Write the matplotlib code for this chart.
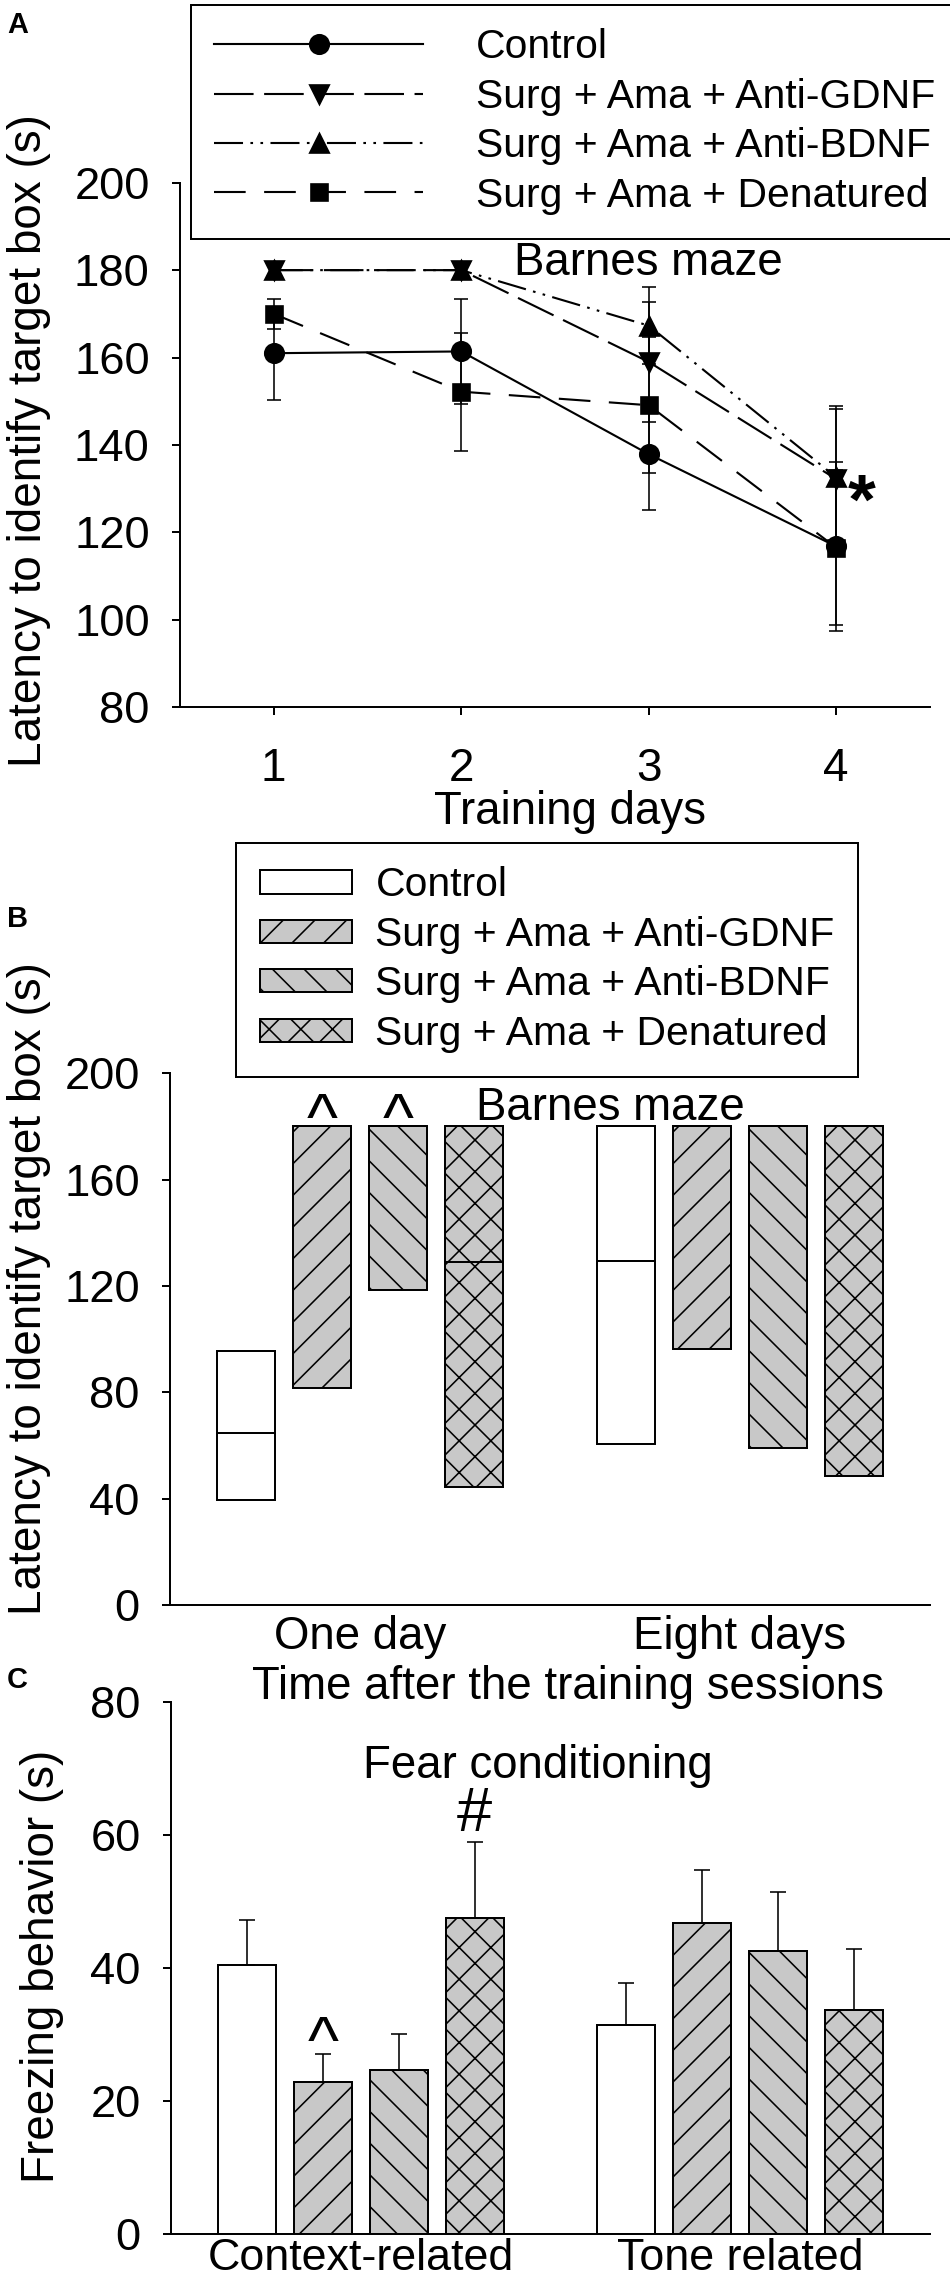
import numpy as np
import matplotlib
matplotlib.use("Agg")
import matplotlib.pyplot as plt

plt.rcParams['font.family'] = ['Liberation Sans', 'DejaVu Sans']
plt.rcParams['hatch.linewidth'] = 0.6
plt.rcParams['lines.scale_dashes'] = False
plt.rcParams['axes.linewidth'] = 0.75

W, H, DPI = 950, 2282, 190

groups = ["Control", "Surg + Ama + Anti-GDNF", "Surg + Ama + Anti-BDNF", "Surg + Ama + Denatured"]

# A - Barnes maze, latency per training day (mean +- error)
days = [1, 2, 3, 4]
ctrl_a = [161.0, 161.4, 137.9, 116.8]
ctrl_a_err = [10.6, 12.0, 12.8, 19.3]
gdnf_a = [180, 180, 159.0, 132.2]
gdnf_a_err = [0, 0, 13.8, 16.8]
bdnf_a = [180, 180, 167.3, 132.6]
bdnf_a_err = [0, 0, 8.8, 15.6]
den_a = [170.0, 152.2, 149.1, 116.5]
den_a_err = [3.4, 13.5, 15.6, 17.7]

# B - latency after training, range boxes with median line (ctrl, gdnf, bdnf, den)
times = ["One day", "Eight days"]
low_one = [39.5, 81.5, 118.6, 44.3]
high_one = [95.4, 180, 180, 180]
med_one = [64.8, 180, 180, 129.1]
low_eight = [60.4, 96.2, 59.1, 48.5]
high_eight = [180, 180, 180, 180]
med_eight = [129.5, 180, 180, 180]

# C - fear conditioning freezing (context, tone)
tests = ["Context-related", "Tone related"]
ctrl_c = [40.5, 31.4]
ctrl_c_err = [6.7, 6.4]
gdnf_c = [22.9, 46.8]
gdnf_c_err = [4.2, 7.9]
bdnf_c = [24.6, 42.6]
bdnf_c_err = [5.5, 8.8]
den_c = [47.5, 33.7]
den_c_err = [11.5, 9.2]

fills = ['white', '#c8c8c8', '#c8c8c8', '#c8c8c8']
hatches = [None, '//', '\\\\', 'xx']
offsets = [-0.3, -0.1, 0.1, 0.3]
bar_w = 0.153
lstyles = ['-', (0, (15, 4)), (0, (11, 2.8, 1, 2.8, 1, 2.8)), (0, (12, 7))]
markers = ['o', 'v', '^', 's']
msizes = [7, 7, 7, 6]


def fx(x):
    return x / W


def fy(y):
    return 1 - y / H


def style_axes(ax):
    ax.spines['top'].set_visible(False)
    ax.spines['right'].set_visible(False)
    ax.tick_params(axis='y', direction='out', length=3, width=0.75, labelsize=17.2, pad=8.5)


fig = plt.figure(figsize=(W / DPI, H / DPI), dpi=DPI)

# ---- panel A
axA = fig.add_axes([fx(180), fy(707.3), 750 / W, (707.3 - 182.7) / H])
style_axes(axA)
handles = []
for y, e, lab, ls, mk, ms in zip([ctrl_a, gdnf_a, bdnf_a, den_a],
                                 [ctrl_a_err, gdnf_a_err, bdnf_a_err, den_a_err],
                                 groups, lstyles, markers, msizes):
    y, e = np.array(y, float), np.array(e, float)
    keep = e > 0
    axA.errorbar(np.array(days)[keep], y[keep], yerr=e[keep], fmt='none', ecolor='k',
                 elinewidth=0.6, capsize=2.5, capthick=0.6, zorder=2)
    h, = axA.plot(days, y, color='k', lw=0.8, linestyle=ls, marker=mk, ms=ms,
                  mfc='k', mec='k', zorder=3, label=lab)
    handles.append(h)
axA.set_xlim(0.5, 4.5)
axA.set_ylim(80, 200)
axA.set_yticks(range(80, 201, 20))
axA.set_xticks(days)
axA.tick_params(axis='x', direction='out', length=3, width=0.75, labelsize=17.4, pad=12)
axA.text(3.0, 178.9, "Barnes maze", ha='center', va='baseline', fontsize=17.3)
axA.text(4.136, 122.0, "*", ha='center', va='baseline', fontsize=27, fontweight='bold')

legA = fig.legend(handles=handles, loc='upper left', bbox_to_anchor=(fx(190.7), fy(4.7)),
                  borderaxespad=0, fontsize=15.5, handlelength=5.1, handletextpad=1.3,
                  labelspacing=0.28, borderpad=0.58, fancybox=False, edgecolor='k',
                  framealpha=1, numpoints=1)
legA.get_frame().set_linewidth(0.75)

# ---- panel B
axB = fig.add_axes([fx(170), fy(1605), 760 / W, (1605 - 1073.3) / H])
style_axes(axB)
xg = np.arange(len(times))
bars_b = []
for i in range(4):
    xs = xg + offsets[i]
    low = np.array([low_one[i], low_eight[i]])
    high = np.array([high_one[i], high_eight[i]])
    med = np.array([med_one[i], med_eight[i]])
    bc = axB.bar(xs, high - low, bottom=low, width=bar_w, color=fills[i], hatch=hatches[i],
                 edgecolor='k', lw=0.75, label=groups[i], zorder=2)
    axB.hlines(med, xs - bar_w / 2, xs + bar_w / 2, color='k', lw=0.75, zorder=3)
    bars_b.append(bc)
axB.set_xlim(-0.5, 1.5)
axB.set_ylim(0, 200)
axB.set_yticks(range(0, 201, 40))
axB.set_xticks(xg)
axB.set_xticklabels(times)
axB.tick_params(axis='x', length=0, labelsize=17.3, pad=3.8)
axB.text(0.659, 182.4, "Barnes maze", ha='center', va='baseline', fontsize=17.3)
for x in [-0.1, 0.1]:
    axB.text(x, 174.9, "^", ha='center', va='baseline', fontsize=25)

legB = fig.legend(handles=bars_b, loc='upper left', bbox_to_anchor=(fx(236), fy(842.7)),
                  borderaxespad=0, fontsize=15.5, handlelength=2.25, handleheight=0.5,
                  handletextpad=0.58, labelspacing=0.28, borderpad=0.58, fancybox=False,
                  edgecolor='k', framealpha=1)
legB.get_frame().set_linewidth(0.75)

# ---- panel C
axC = fig.add_axes([fx(171), fy(2233.7), 759 / W, (2233.7 - 1702.3) / H])
style_axes(axC)
for i, (v, e) in enumerate(zip([ctrl_c, gdnf_c, bdnf_c, den_c],
                               [ctrl_c_err, gdnf_c_err, bdnf_c_err, den_c_err])):
    xs = xg + offsets[i]
    axC.bar(xs, v, width=bar_w, color=fills[i], hatch=hatches[i], edgecolor='k', lw=0.75,
            yerr=[np.zeros(len(e)), e],
            error_kw=dict(ecolor='k', elinewidth=0.6, capsize=3, capthick=0.6), zorder=2)
axC.set_xlim(-0.5, 1.5)
axC.set_ylim(0, 80)
axC.set_yticks(range(0, 81, 20))
axC.set_xticks(xg)
axC.set_xticklabels(tests)
axC.tick_params(axis='x', length=0, labelsize=17.0, pad=1.6)
axC.text(0.468, 68.6, "Fear conditioning", ha='center', va='baseline', fontsize=17.3)
axC.text(-0.1, 25.7, "^", ha='center', va='baseline', fontsize=25)
axC.text(0.3, 60.6, "#", ha='center', va='baseline', fontsize=24)

# labels
lab_kw = dict(rotation=90, ha='center', va='center', fontsize=17.4)
fig.text(fx(29.5), fy(441), "Latency to identify target box (s)", **lab_kw)
fig.text(fx(29.5), fy(1289), "Latency to identify target box (s)", **lab_kw)
fig.text(fx(42), fy(1966), "Freezing behavior (s)", **lab_kw)
fig.text(fx(570), fy(824), "Training days", ha='center', va='baseline', fontsize=17.3)
fig.text(fx(568), fy(1699.3), "Time after the training sessions", ha='center', va='baseline',
         fontsize=17.3)
for letter, yb in [("A", 33), ("B", 927), ("C", 1688)]:
    fig.text(fx(7), fy(yb), letter, ha='left', va='baseline', fontsize=11, fontweight='bold')

fig.savefig("out.png", dpi=DPI)
